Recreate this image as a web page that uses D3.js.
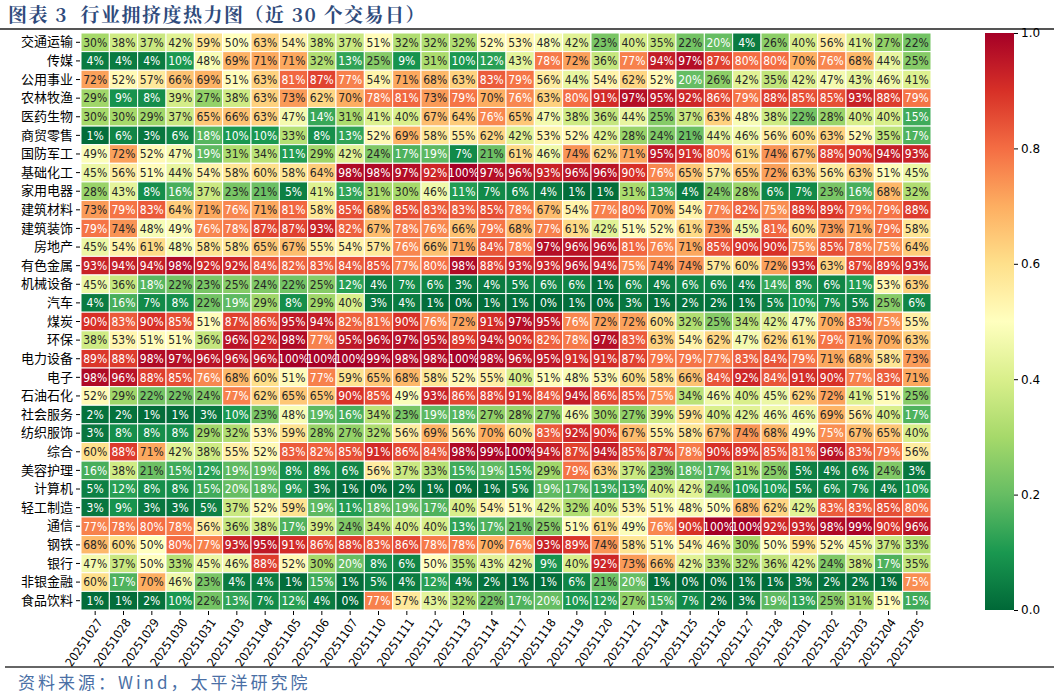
<!DOCTYPE html>
<html>
<head>
<meta charset="utf-8">
<script src="https://cdn.jsdelivr.net/npm/d3@7"></script>
<style>
  body { margin: 0; background: #fff; }
  svg { display: block; }
</style>
</head>
<body>
<div class="canvas"></div>
<script>
// dates along the x axis
const dates = ['20251027','20251028','20251029','20251030','20251031','20251103','20251104','20251105','20251106','20251107',
  '20251110','20251111','20251112','20251113','20251114','20251117','20251118','20251119','20251120','20251121',
  '20251124','20251125','20251126','20251127','20251128','20251201','20251202','20251203','20251204','20251205'];

// industries (rows)
const industries = ['交通运输','传媒','公用事业','农林牧渔','医药生物','商贸零售','国防军工','基础化工','家用电器','建筑材料',
  '建筑装饰','房地产','有色金属','机械设备','汽车','煤炭','环保','电力设备','电子','石油石化',
  '社会服务','纺织服饰','综合','美容护理','计算机','轻工制造','通信','钢铁','银行','非银金融','食品饮料'];

// crowding percentile (%), one row per industry
const crowding = [
  [30,38,37,42,59,50,63,54,38,37, 51,32,32,32,52,53,48,42,23,40, 35,22,20,4,26,40,56,41,27,22],
  [4,4,4,10,48,69,71,71,32,13, 25,9,31,10,12,43,78,72,36,77, 94,97,87,80,80,70,76,68,44,25],
  [72,52,57,66,69,51,63,81,87,77, 54,71,68,63,83,79,56,44,54,62, 52,20,26,42,35,42,47,43,46,41],
  [29,9,8,39,27,38,63,73,62,70, 78,81,73,79,70,76,63,80,91,97, 95,92,86,79,88,85,85,93,88,79],
  [30,30,29,37,65,66,63,47,14,31, 41,40,67,64,76,65,47,38,36,44, 25,37,63,48,38,22,28,40,40,15],
  [1,6,3,6,18,10,10,33,8,13, 52,69,58,55,62,42,53,52,42,28, 24,21,44,46,56,60,63,52,35,17],
  [49,72,52,47,19,31,34,11,29,42, 24,17,19,7,21,61,46,74,62,71, 95,91,80,61,74,67,88,90,94,93],
  [45,56,51,44,54,58,60,58,64,98, 98,97,92,100,97,96,93,96,96,90, 76,65,57,65,72,63,56,63,51,45],
  [28,43,8,16,37,23,21,5,41,13, 31,30,46,11,7,6,4,1,1,31, 13,4,24,28,6,7,23,16,68,32],
  [73,79,83,64,71,76,71,81,58,85, 68,85,83,83,85,78,67,54,77,80, 70,54,77,82,75,88,89,79,79,88],
  [79,74,48,49,76,78,87,87,93,82, 67,78,76,66,79,68,77,61,42,51, 52,61,73,45,81,60,73,71,79,58],
  [45,54,61,48,58,58,65,67,55,54, 57,76,66,71,84,78,97,96,96,81, 76,71,85,90,90,75,85,78,75,64],
  [93,94,94,98,92,92,84,82,83,84, 85,77,80,98,88,93,93,96,94,75, 74,74,57,60,72,93,63,87,89,93],
  [45,36,18,22,23,25,24,22,25,12, 4,7,6,3,4,5,6,6,1,6, 4,6,6,4,14,8,6,11,53,63],
  [4,16,7,8,22,19,29,8,29,40, 3,4,1,0,1,1,0,1,0,3, 1,2,2,1,5,10,7,5,25,6],
  [90,83,90,85,51,87,86,95,94,82, 81,90,76,72,91,97,95,76,72,72, 60,32,25,34,42,47,70,83,75,55],
  [38,53,51,51,36,96,92,98,77,95, 96,97,95,89,94,90,82,78,97,83, 63,54,62,47,62,61,79,71,70,63],
  [89,88,98,97,96,96,96,100,100,100, 99,98,98,100,98,96,95,91,91,87, 79,79,77,83,84,79,71,68,58,73],
  [98,96,88,85,76,68,60,51,77,59, 65,68,58,52,55,40,51,48,53,60, 58,66,84,92,84,91,90,77,83,71],
  [52,29,22,22,24,77,62,65,65,90, 85,49,93,86,88,91,84,94,86,85, 75,34,46,40,45,62,72,41,51,25],
  [2,2,1,1,3,10,23,48,19,16, 34,23,19,18,27,28,27,46,30,27, 39,59,40,42,46,46,69,56,40,17],
  [3,8,8,8,29,32,53,59,28,27, 32,56,69,56,70,60,83,92,90,67, 55,58,67,74,68,49,75,67,65,40],
  [60,88,71,42,38,55,52,83,82,85, 91,86,84,98,99,100,94,87,94,85, 87,78,90,89,85,81,96,83,79,56],
  [16,38,21,15,12,19,19,8,8,6, 56,37,33,15,19,15,29,79,63,37, 23,18,17,31,25,5,4,6,24,3],
  [5,12,8,8,15,20,18,9,3,1, 0,2,1,0,1,5,19,17,13,13, 40,42,24,10,10,5,6,7,4,10],
  [3,9,3,3,5,37,52,59,19,11, 18,19,17,40,54,51,42,32,40,53, 51,48,50,68,62,42,83,83,85,80],
  [77,78,80,78,56,36,38,17,39,24, 34,40,40,13,17,21,25,51,61,49, 76,90,100,100,92,93,98,99,90,96],
  [68,60,50,80,77,93,95,91,86,88, 83,86,78,78,70,76,93,89,74,58, 51,54,46,30,50,59,52,45,37,33],
  [47,37,50,33,45,46,88,52,30,20, 8,6,50,35,43,42,9,40,92,73, 66,42,33,32,36,42,24,38,17,35],
  [60,17,70,46,23,4,4,1,15,1, 5,4,12,4,2,1,1,6,21,20, 1,0,0,1,1,3,2,2,1,75],
  [1,1,2,10,22,13,7,12,4,0, 77,57,43,32,22,17,20,10,12,27, 15,7,2,3,19,13,25,31,51,15]
];

const colorTicks = [0, 0.2, 0.4, 0.6, 0.8, 1.0];

// RdYlGn reversed (green = low, red = high), linear through the brewer stops
const brewer = ['#006837','#1a9850','#66bd63','#a6d96a','#d9ef8b','#ffffbf','#fee08b','#fdae61','#f46d43','#d73027','#a50026'];
const color = d3.scaleLinear()
    .domain(d3.range(11).map(i => i / 10))
    .range(brewer)
    .interpolate(d3.interpolateRgb);

const width = 1054, height = 696;
const gridLeft = 81, gridRight = 931, gridTop = 33, gridBottom = 610;

const svg = d3.select('.canvas')
    .append('svg')
    .attr('width', width)
    .attr('height', height);

// title + rules
svg.append('text')
    .attr('x', 8)
    .attr('y', 22)
    .attr('fill', '#2f4b7c')
    .attr('font-family', '"Noto Serif CJK SC", "Noto Sans CJK SC", sans-serif')
    .attr('font-weight', 'bold')
    .attr('font-size', 19)
    .attr('letter-spacing', 1.5)
    .style('white-space', 'pre')
    .text('图表 3  行业拥挤度热力图（近 30 个交易日）');

svg.append('line')
    .attr('x1', 0).attr('x2', width)
    .attr('y1', 29).attr('y2', 29)
    .attr('stroke', '#555').attr('stroke-width', 2);

svg.append('line')
    .attr('x1', 5).attr('x2', width)
    .attr('y1', 667).attr('y2', 667)
    .attr('stroke', '#666').attr('stroke-width', 2);

svg.append('text')
    .attr('x', 18)
    .attr('y', 689)
    .attr('fill', '#4a6fa5')
    .attr('font-family', '"Noto Sans CJK SC", sans-serif')
    .attr('font-size', 17)
    .attr('letter-spacing', 3)
    .text('资料来源：Wind，太平洋研究院');

// scales
const x = d3.scaleBand().domain(dates).range([gridLeft, gridRight]);
const y = d3.scaleBand().domain(industries).range([gridTop, gridBottom]);

// seaborn-style text colour from cell luminance
const lum = c => {
    const rgb = d3.rgb(c);
    const lin = v => { v /= 255; return v <= 0.03928 ? v / 12.92 : Math.pow((v + 0.055) / 1.055, 2.4); };
    return 0.2126 * lin(rgb.r) + 0.7152 * lin(rgb.g) + 0.0722 * lin(rgb.b);
};

const cells = [];
industries.forEach((ind, i) => {
    dates.forEach((d, j) => {
        cells.push({ind: ind, date: d, value: crowding[i][j]});
    });
});

const cell = svg.append('g').selectAll('g')
    .data(cells)
    .enter().append('g');

cell.append('rect')
    .attr('x', d => x(d.date))
    .attr('y', d => y(d.ind))
    .attr('width', x.bandwidth())
    .attr('height', y.bandwidth())
    .attr('fill', d => color(d.value / 100))
    .attr('stroke', '#fff')
    .attr('stroke-width', 1);

cell.append('text')
    .attr('x', d => x(d.date) + x.bandwidth() / 2)
    .attr('y', d => y(d.ind) + y.bandwidth() / 2)
    .attr('dy', '0.36em')
    .attr('text-anchor', 'middle')
    .attr('font-family', '"Liberation Sans Narrow", "DejaVu Sans Condensed", sans-serif')
    .attr('font-size', 12)
    .attr('fill', d => lum(color(d.value / 100)) > 0.408 ? '#262626' : '#fff')
    .text(d => d.value + '%');

// axes
const yAxis = svg.append('g')
    .attr('transform', `translate(${gridLeft - 1},0)`)
    .call(d3.axisLeft(y).tickSize(4).tickPadding(3));
yAxis.select('.domain').remove();
yAxis.selectAll('text')
    .attr('font-family', '"Noto Sans CJK SC", sans-serif')
    .attr('font-size', 13)
    .attr('fill', '#000');

const xAxis = svg.append('g')
    .attr('transform', `translate(0,${gridBottom + 1})`)
    .call(d3.axisBottom(x).tickSize(4).tickPadding(3));
xAxis.select('.domain').remove();
xAxis.selectAll('text')
    .attr('font-family', '"DejaVu Sans Condensed", "DejaVu Sans", sans-serif')
    .attr('font-size', 12)
    .attr('fill', '#000')
    .attr('text-anchor', 'end')
    .attr('dx', '-0.4em')
    .attr('dy', '0.5em')
    .attr('transform', 'rotate(-55)');

// colour bar
const cbX = 985, cbW = 29;
const cbScale = d3.scaleLinear().domain([0, 1]).range([gridBottom, gridTop]);

const grad = svg.append('defs').append('linearGradient')
    .attr('id', 'cb')
    .attr('x1', 0).attr('y1', 1).attr('x2', 0).attr('y2', 0);
grad.selectAll('stop')
    .data(d3.range(0, 1.0001, 0.05))
    .enter().append('stop')
    .attr('offset', d => d)
    .attr('stop-color', d => color(d));

svg.append('rect')
    .attr('x', cbX)
    .attr('y', gridTop)
    .attr('width', cbW)
    .attr('height', gridBottom - gridTop)
    .attr('fill', 'url(#cb)');

const cbAxis = svg.append('g')
    .attr('transform', `translate(${cbX + cbW},0)`)
    .call(d3.axisRight(cbScale).tickValues(colorTicks).tickFormat(d3.format('.1f')).tickSize(4).tickPadding(3));
cbAxis.select('.domain').remove();
cbAxis.selectAll('text')
    .attr('font-family', '"DejaVu Sans", sans-serif')
    .attr('font-size', 12)
    .attr('fill', '#000');
</script>
</body>
</html>
